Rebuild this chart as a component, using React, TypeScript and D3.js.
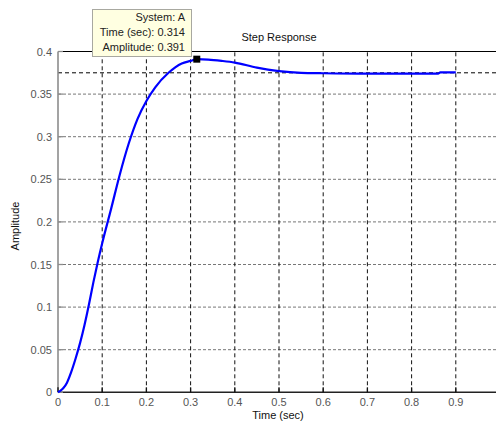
import React, { useEffect, useRef } from "react";
import * as d3 from "d3";

// step response
const time = [0, 0.02, 0.03, 0.04, 0.05, 0.06, 0.07, 0.08, 0.09, 0.1, 0.12, 0.14, 0.16, 0.18, 0.2, 0.22, 0.25, 0.28, 0.3, 0.314, 0.34, 0.37, 0.4, 0.45, 0.5, 0.55, 0.6, 0.7, 0.8, 0.86, 0.865, 0.9];
const amplitude = [0, 0.011, 0.024, 0.04, 0.058, 0.079, 0.103, 0.129, 0.153, 0.175, 0.215, 0.256, 0.292, 0.321, 0.342, 0.358, 0.375, 0.386, 0.389, 0.391, 0.3905, 0.389, 0.387, 0.381, 0.377, 0.375, 0.3745, 0.374, 0.374, 0.374, 0.3755, 0.3755];

const xTicks = [0, 0.1, 0.2, 0.3, 0.4, 0.5, 0.6, 0.7, 0.8, 0.9];
const yTicks = [0, 0.05, 0.1, 0.15, 0.2, 0.25, 0.3, 0.35, 0.4];
const steadyState = 0.375;
const peak = { t: 0.314, a: 0.391 };
const tipLines = ["System: A", "Time (sec): 0.314", "Amplitude: 0.391"];

export default function App() {
  const ref = useRef<SVGSVGElement>(null);

  useEffect(() => {
    const svg = d3.select(ref.current);
    svg.selectAll("*").remove();
    const font = "Arial, 'Liberation Sans', sans-serif";

    const x = d3.scaleLinear().domain([0, 1]).range([58, 500]);
    const y = d3.scaleLinear().domain([0, 0.4]).range([392.3, 51.5]);

    svg.append("rect").attr("width", 496).attr("height", 428).attr("fill", "#fff");

    // grid
    svg.append("g").selectAll("line")
      .data(yTicks.slice(1, -1))
      .enter().append("line")
      .attr("x1", x(0)).attr("x2", x(1))
      .attr("y1", d => y(d)).attr("y2", d => y(d))
      .attr("stroke", "#777").attr("stroke-dasharray", "3,2");
    svg.append("g").selectAll("line")
      .data(xTicks.slice(1))
      .enter().append("line")
      .attr("x1", d => x(d)).attr("x2", d => x(d))
      .attr("y1", y(0)).attr("y2", y(0.4))
      .attr("stroke", "#111").attr("stroke-dasharray", "4,3");

    // steady state line
    svg.append("line")
      .attr("x1", x(0)).attr("x2", x(1))
      .attr("y1", y(steadyState)).attr("y2", y(steadyState))
      .attr("stroke", "#000").attr("stroke-dasharray", "4,3");

    // axes box
    svg.append("line").attr("x1", x(0)).attr("x2", x(1)).attr("y1", y(0.4)).attr("y2", y(0.4))
      .attr("stroke", "#000").attr("stroke-width", 1.2);
    svg.append("line").attr("x1", x(0)).attr("x2", x(1)).attr("y1", y(0)).attr("y2", y(0))
      .attr("stroke", "#222").attr("stroke-width", 1.5);
    svg.append("line").attr("x1", x(0)).attr("x2", x(0)).attr("y1", y(0)).attr("y2", y(0.4))
      .attr("stroke", "#8c8c8c").attr("stroke-width", 1.6);

    // ticks
    svg.append("g").selectAll("line")
      .data(xTicks)
      .enter().append("line")
      .attr("x1", d => x(d)).attr("x2", d => x(d))
      .attr("y1", y(0)).attr("y2", y(0) - 5)
      .attr("stroke", "#111").attr("stroke-width", 1.3);
    svg.append("g").selectAll("line")
      .data(yTicks)
      .enter().append("line")
      .attr("x1", x(0)).attr("x2", x(0) + 5)
      .attr("y1", d => y(d)).attr("y2", d => y(d))
      .attr("stroke", "#8c8c8c").attr("stroke-width", 1.3);

    svg.append("g").selectAll("text")
      .data(xTicks)
      .enter().append("text")
      .attr("x", d => x(d)).attr("y", 405.5)
      .attr("text-anchor", "middle")
      .attr("font-family", font).attr("font-size", 11).attr("fill", "#555")
      .text(d => String(d));
    svg.append("g").selectAll("text")
      .data(yTicks)
      .enter().append("text")
      .attr("x", 52).attr("y", d => y(d) + 4)
      .attr("text-anchor", "end")
      .attr("font-family", font).attr("font-size", 11).attr("fill", "#555")
      .text(d => String(d));

    // labels
    svg.append("text").attr("x", 279).attr("y", 41).attr("text-anchor", "middle")
      .attr("font-family", font).attr("font-size", 11).attr("fill", "#111").text("Step Response");
    svg.append("text").attr("x", 278).attr("y", 419).attr("text-anchor", "middle")
      .attr("font-family", font).attr("font-size", 11).attr("fill", "#111").text("Time (sec)");
    svg.append("text").attr("transform", "translate(19,226) rotate(-90)").attr("text-anchor", "middle")
      .attr("font-family", font).attr("font-size", 11).attr("fill", "#111").text("Amplitude");

    // response curve
    const pts = time.map((t, i) => [t, amplitude[i]] as [number, number]);
    const line = d3.line<[number, number]>()
      .x(d => x(d[0])).y(d => y(d[1]))
      .curve(d3.curveMonotoneX);
    svg.append("path").attr("d", line(pts) as string)
      .attr("fill", "none").attr("stroke", "#0000ff").attr("stroke-width", 2.2);

    // data tip
    svg.append("rect").attr("x", x(peak.t) - 3.5).attr("y", y(peak.a) - 3.5)
      .attr("width", 7).attr("height", 7).attr("fill", "#000");
    svg.append("rect").attr("x", 92.5).attr("y", 9.5).attr("width", 99).attr("height", 47)
      .attr("fill", "#ffffe1").attr("stroke", "#a8a8a0");
    svg.append("g").selectAll("text")
      .data(tipLines)
      .enter().append("text")
      .attr("x", 185).attr("y", (d, i) => 20.5 + i * 15)
      .attr("text-anchor", "end")
      .attr("font-family", font).attr("font-size", 11).attr("fill", "#222")
      .text(d => d);
  }, []);

  return (
    <svg ref={ref} width={496} height={428}
      style={{ position: "absolute", left: 0, top: 0, display: "block" }} />
  );
}
